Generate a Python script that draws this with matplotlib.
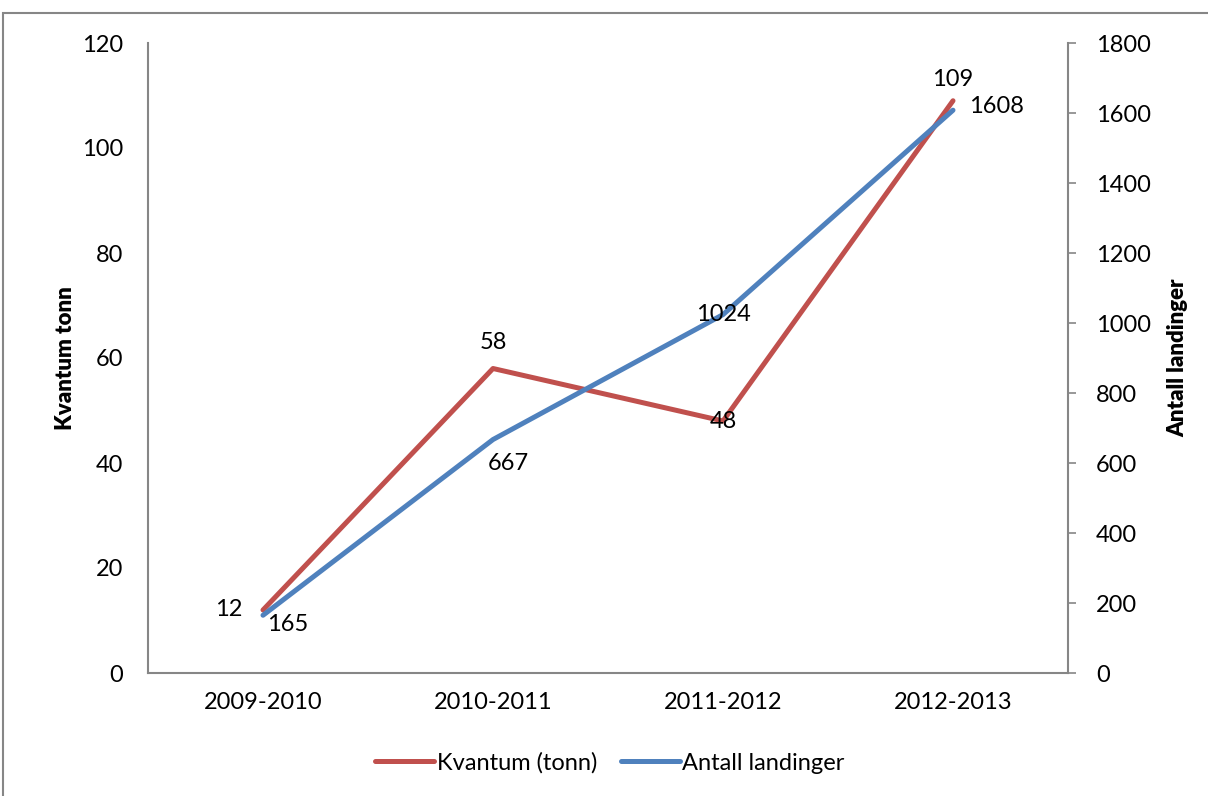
import matplotlib.pyplot as plt
from matplotlib.patches import Rectangle

seasons = ["2009-2010", "2010-2011", "2011-2012", "2012-2013"]
kvantum = [12, 58, 48, 109]
landinger = [165, 667, 1024, 1608]

plt.rcParams['font.family'] = ['Lato', 'DejaVu Sans']
red = '#C0504D'
blue = '#4F81BD'
grey = '#868686'
fs = 17

fig = plt.figure(figsize=(12.08, 7.96), dpi=100)
ax = fig.add_axes([148/1208, 1-673/796, 920/1208, 630/796])
ax2 = ax.twinx()

x = range(len(seasons))
l1, = ax.plot(x, kvantum, color=red, lw=3.6, solid_capstyle='round', label="Kvantum (tonn)", zorder=3)
l2, = ax2.plot(x, landinger, color=blue, lw=3.6, solid_capstyle='round', label="Antall landinger")

ax.set_xlim(-0.5, 3.5)
ax.set_ylim(0, 120)
ax2.set_ylim(0, 1800)
ax.set_yticks(range(0, 121, 20))
ax2.set_yticks(range(0, 1801, 200))
ax.set_xticks(list(x))
ax.set_xticklabels(seasons)

for a in (ax, ax2):
    for s in a.spines.values():
        s.set_visible(False)
    a.tick_params(labelsize=fs)
ax.spines['left'].set_visible(True)
ax.spines['bottom'].set_visible(True)
ax2.spines['right'].set_visible(True)
for s in (ax.spines['left'], ax.spines['bottom'], ax2.spines['right']):
    s.set_color(grey)
    s.set_linewidth(1.5)
ax.tick_params(axis='y', length=0, pad=18)
ax.tick_params(axis='x', length=0, pad=14)
ax2.tick_params(axis='y', length=6, color=grey, width=1.2, pad=14)

ax.set_ylabel("Kvantum tonn", fontsize=16, fontweight='heavy', labelpad=4)
ax2.set_ylabel("Antall landinger", fontsize=16, fontweight='heavy', labelpad=12)

# data labels
red_off = [(-25, 0), (0, 19), (0, 0), (0, 15)]
blue_off = [(18, -7), (11, -17), (0, 0), (31, 3)]
for i, v in enumerate(kvantum):
    ax.annotate(str(v), (i, v), xytext=red_off[i], textcoords='offset points',
                ha='center', va='center', fontsize=fs, zorder=5)
for i, v in enumerate(landinger):
    ax2.annotate(str(v), (i, v), xytext=blue_off[i], textcoords='offset points',
                 ha='center', va='center', fontsize=fs, zorder=5)

fig.legend(handles=[l1, l2], loc='center', bbox_to_anchor=(610/1208, 1-763/796),
           ncol=2, frameon=False, fontsize=fs, handlelength=2.5,
           handletextpad=0.1, columnspacing=1.0)

fig.patches.append(Rectangle((3/1208, -0.01), 1.02, 1-13/796+0.01, transform=fig.transFigure,
                             fill=False, edgecolor=grey, lw=1.5))

fig.savefig("out.png", dpi=100)
